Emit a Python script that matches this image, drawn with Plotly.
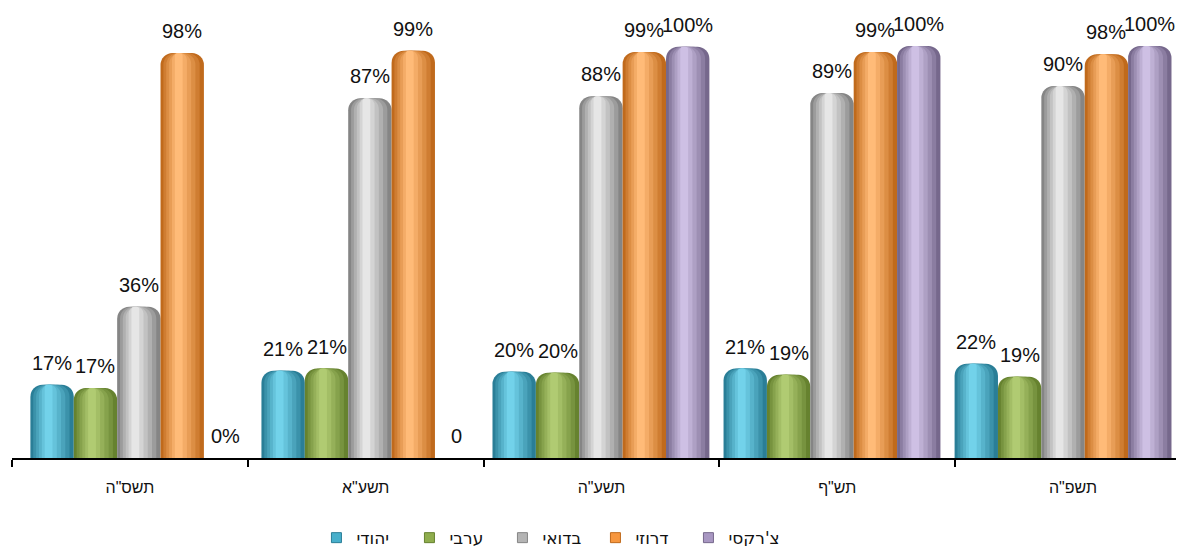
import plotly.graph_objects as go

# ---------------- data ----------------
categories = ['תשס"ה', 'תשע"א', 'תשע"ה', 'תש"ף', 'תשפ"ה']
series_names = ["יהודי", "ערבי", "בדואי", "דרוזי", "צ'רקסי"]

jewish = [17.8, 21.2, 20.9, 21.7, 22.9]
arab = [17.0, 21.7, 20.7, 20.2, 19.7]
bedouin = [36.7, 87.3, 87.8, 88.6, 90.3]
druze = [98.3, 98.8, 98.5, 98.5, 98.0]
circassian = [0, 0, 99.8, 100, 100]

jewish_labels = ["17%", "21%", "20%", "21%", "22%"]
arab_labels = ["17%", "21%", "20%", "19%", "19%"]
bedouin_labels = ["36%", "87%", "88%", "89%", "90%"]
druze_labels = ["98%", "99%", "99%", "99%", "98%"]
circassian_labels = ["0%", "0", "100%", "100%", "100%"]

# ---------------- styling ----------------
series_values = [jewish, arab, bedouin, druze, circassian]
series_labels = [jewish_labels, arab_labels, bedouin_labels, druze_labels, circassian_labels]

dark = ['#2A7E97', '#66822F', '#858585', '#C06A1C', '#76688C']
light = ['#72D2EA', '#B0CB72', '#E6E6E6', '#FFBB78', '#CEC0E4']
legend_col = ['#47AFCB', '#8FAD4D', '#B4B4B4', '#F7973F', '#A897C2']
legend_edge = ['#2A7E97', '#66822F', '#858585', '#C06A1C', '#76688C']

FONT = "Liberation Sans, Arial, sans-serif"
LEGEND_FONT = "DejaVu Sans, Liberation Sans, sans-serif"
W = 0.184                      # width of one bar (category units)
START = -0.46                  # left edge of first bar relative to category centre
n_groups = len(categories)
# slight left drift of groups, imitating the perspective of the original 3D chart
shift = [0.038 - 0.02 * j for j in range(n_groups)]


def blend(c1, c2, t):
    a = [int(c1[k:k + 2], 16) for k in (1, 3, 5)]
    b = [int(c2[k:k + 2], 16) for k in (1, 3, 5)]
    return "#" + "".join(f"{round(x + (y - x) * t):02x}" for x, y in zip(a, b))


fig = go.Figure()

N_LAYERS = 6
for k in range(N_LAYERS):
    t = k / (N_LAYERS - 1)
    wf = 1.0 - 0.82 * t            # layer width as fraction of a bar
    cf = 0.5 - 0.08 * t            # layer centre (highlight slightly left)
    sf = cf - wf / 2
    for i, (name, vals) in enumerate(zip(series_names, series_values)):
        offs = [START + i * W + sf * W + shift[j] for j in range(n_groups)]
        fig.add_trace(go.Bar(
            x=categories, y=vals, name=name,
            width=W * wf, offset=offs,
            marker=dict(color=blend(dark[i], light[i], t ** 0.9), line=dict(width=0)),
            showlegend=False, hoverinfo="skip",
        ))

# legend entries: square swatches, no marks in the plot
for i, name in enumerate(series_names):
    fig.add_trace(go.Scatter(
        x=categories, y=[None] * n_groups, name=name, mode="markers",
        marker=dict(symbol="square", size=10, color=legend_col[i],
                    line=dict(width=1, color=legend_edge[i])),
        showlegend=True, legendrank=i + 1, hoverinfo="skip",
    ))

annotations = []
for i, (vals, labs) in enumerate(zip(series_values, series_labels)):
    for j in range(n_groups):
        annotations.append(dict(
            x=j + START + (i + 0.5) * W + shift[j], y=vals[j],
            xref="x", yref="y", text=labs[j], showarrow=False,
            yanchor="bottom", yshift=9,
            font=dict(family=FONT, size=20, color="#111111"),
        ))

fig.update_layout(
    width=1184, height=546,
    margin=dict(l=4, r=0, t=0, b=96, autoexpand=False),
    paper_bgcolor="white", plot_bgcolor="white",
    barmode="overlay", barcornerradius=12,
    font=dict(family=FONT, size=16, color="#111111"),
    annotations=annotations,
    showlegend=True,
    legend=dict(orientation="h", x=0.258, xanchor="left", y=-0.178, yanchor="middle",
                font=dict(family=LEGEND_FONT, size=17, color="#111111"), traceorder="normal",
                entrywidth=48, entrywidthmode="pixels", itemwidth=30,
                itemclick=False, itemdoubleclick=False),
    xaxis=dict(type="category", range=[-0.5, 4.505], tickson="boundaries",
               ticks="outside", ticklen=7, tickwidth=2, tickcolor="black",
               showline=True, linecolor="black", linewidth=2, showgrid=False,
               tickfont=dict(family=FONT, size=16, color="#111111"),
               ticklabelstandoff=14, fixedrange=True),
    yaxis=dict(range=[0, 109.2], visible=False, fixedrange=True),
)

fig.write_html("out.html")
